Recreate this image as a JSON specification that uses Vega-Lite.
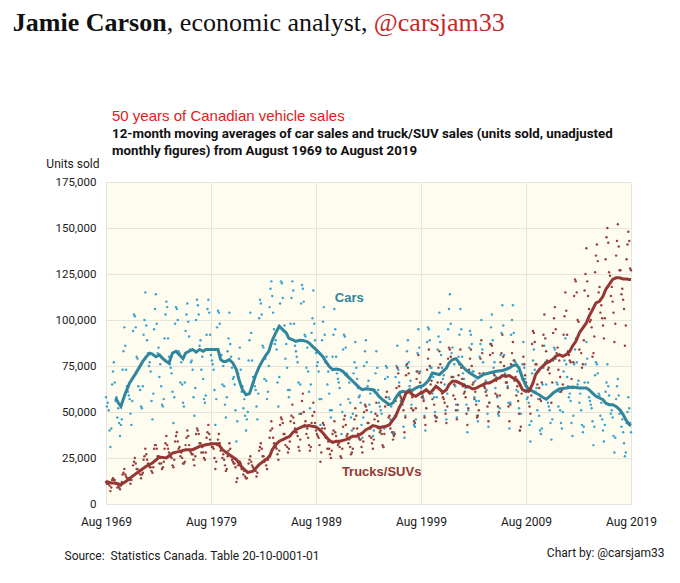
{
  "$schema": "https://vega.github.io/schema/vega-lite/v6.json",
  "background": "white",
  "padding": {"left": 12, "top": 9, "right": 4, "bottom": 4},
  "config": {
    "font": "Roboto",
    "view": {"stroke": null},
    "concat": {"spacing": 0},
    "axis": {
      "labelFont": "Roboto", "labelFontSize": 12, "labelColor": "#1a1a1a",
      "titleFont": "Roboto", "titleFontSize": 12, "titleFontWeight": "normal", "titleColor": "#1a1a1a",
      "gridColor": "#e5e5dc", "ticks": false, "domain": false
    }
  },
  "title": {"text": "@carsjam33", "anchor": "start", "dx": 361, "offset": -26, "font": "Liberation Serif", "fontSize": 26, "fontWeight": "normal", "color": "#c62828"},
  "datasets": {
    "cm": [
      {"d":"1970-07","v":57.6},{"d":"1970-10","v":55},{"d":"1971-01","v":53},{"d":"1971-06","v":60},{"d":"1971-11","v":65.8},
      {"d":"1972-06","v":71},{"d":"1973-02","v":77.5},{"d":"1973-06","v":80},{"d":"1973-10","v":82},{"d":"1974-01","v":81.5},
      {"d":"1974-05","v":80},{"d":"1974-09","v":81},{"d":"1975-01","v":79},{"d":"1975-05","v":77.5},{"d":"1975-08","v":76.6},
      {"d":"1975-12","v":82},{"d":"1976-04","v":83},{"d":"1976-08","v":81},{"d":"1976-12","v":79},{"d":"1977-03","v":82},
      {"d":"1977-07","v":83},{"d":"1977-11","v":84},{"d":"1978-03","v":82.5},{"d":"1978-07","v":84},{"d":"1978-11","v":83},
      {"d":"1979-02","v":84},{"d":"1979-06","v":84},{"d":"1979-10","v":84},{"d":"1980-04","v":84},{"d":"1980-07","v":78.5},
      {"d":"1980-10","v":77.5},{"d":"1981-01","v":77.5},{"d":"1981-05","v":78.5},{"d":"1981-09","v":76.6},{"d":"1982-01","v":73},
      {"d":"1982-04","v":67.6},{"d":"1982-08","v":62},{"d":"1982-12","v":59.4},{"d":"1983-04","v":60},{"d":"1983-08","v":65.8},
      {"d":"1983-11","v":70},{"d":"1984-03","v":74.5},{"d":"1984-07","v":78},{"d":"1984-11","v":81},{"d":"1985-02","v":83},
      {"d":"1985-06","v":89},{"d":"1985-10","v":93},{"d":"1986-02","v":96.6},{"d":"1986-06","v":94.8},{"d":"1986-10","v":93},
      {"d":"1987-01","v":90},{"d":"1987-05","v":89.3},{"d":"1987-09","v":88.4},{"d":"1988-01","v":89},{"d":"1988-05","v":88.8},
      {"d":"1988-09","v":88.4},{"d":"1988-12","v":87.5},{"d":"1989-04","v":85.7},{"d":"1989-08","v":83.9},{"d":"1989-12","v":82},
      {"d":"1990-04","v":80},{"d":"1990-07","v":77.6},{"d":"1990-11","v":74.8},{"d":"1991-03","v":73},{"d":"1991-07","v":73.4},
      {"d":"1991-11","v":73},{"d":"1992-03","v":72},{"d":"1992-06","v":70.3},{"d":"1992-10","v":68.5},{"d":"1993-02","v":66.7},
      {"d":"1993-06","v":64.9},{"d":"1993-10","v":63},{"d":"1994-01","v":62.1},{"d":"1994-05","v":62.6},{"d":"1994-09","v":62.4},
      {"d":"1995-01","v":62.1},{"d":"1995-05","v":60.3},{"d":"1995-08","v":58.5},{"d":"1995-12","v":56.7},{"d":"1996-04","v":55.3},
      {"d":"1996-08","v":54},{"d":"1996-12","v":54.9},{"d":"1997-03","v":57.6},{"d":"1997-07","v":60.3},{"d":"1997-11","v":61.2},
      {"d":"1998-03","v":60.7},{"d":"1998-07","v":62.1},{"d":"1998-10","v":61.7},{"d":"1999-02","v":63},{"d":"1999-06","v":63.9},
      {"d":"1999-10","v":64.2},{"d":"2000-02","v":65.8},{"d":"2000-05","v":67.6},{"d":"2000-09","v":71.2},{"d":"2001-01","v":70.8},
      {"d":"2001-05","v":70.3},{"d":"2001-09","v":72.1},{"d":"2002-01","v":73.9},{"d":"2002-04","v":76.6},{"d":"2002-08","v":78.5},
      {"d":"2002-12","v":79},{"d":"2003-04","v":76.6},{"d":"2003-08","v":74.5},{"d":"2003-11","v":73},{"d":"2004-03","v":71.5},
      {"d":"2004-07","v":70.3},{"d":"2005-01","v":68.5},{"d":"2005-07","v":70.3},{"d":"2006-02","v":71.2},{"d":"2006-10","v":72.1},
      {"d":"2007-05","v":72.5},{"d":"2008-01","v":73.9},{"d":"2008-05","v":75.2},{"d":"2008-09","v":75.7},{"d":"2008-12","v":73.9},
      {"d":"2009-04","v":68.5},{"d":"2009-08","v":64},{"d":"2009-12","v":62.1},{"d":"2010-04","v":61.2},{"d":"2010-07","v":60.3},
      {"d":"2010-11","v":59.4},{"d":"2011-03","v":58},{"d":"2011-07","v":57},{"d":"2011-11","v":58.5},{"d":"2012-03","v":60.3},
      {"d":"2012-10","v":62.5},{"d":"2013-06","v":63},{"d":"2014-01","v":63.6},{"d":"2014-09","v":63},{"d":"2015-05","v":63},
      {"d":"2015-08","v":62.1},{"d":"2015-12","v":60.3},{"d":"2016-04","v":58.5},{"d":"2016-08","v":57.6},{"d":"2016-12","v":56.7},
      {"d":"2017-03","v":54.9},{"d":"2017-07","v":54},{"d":"2017-11","v":54},{"d":"2018-03","v":53},{"d":"2018-07","v":51.3},
      {"d":"2018-11","v":48.6},{"d":"2019-02","v":45.8},{"d":"2019-06","v":43.1},{"d":"2019-08","v":42.6}
    ],
    "tm": [
      {"d":"1969-08","v":12.3},{"d":"1970-02","v":11.4},{"d":"1970-07","v":11.4},{"d":"1971-01","v":10.5},{"d":"1971-07","v":12.3},
      {"d":"1972-02","v":15},{"d":"1972-10","v":17.8},{"d":"1973-06","v":20.5},{"d":"1974-01","v":22.3},{"d":"1974-09","v":25.5},
      {"d":"1975-05","v":25},{"d":"1975-12","v":27.7},{"d":"1976-08","v":28.6},{"d":"1977-03","v":29.5},{"d":"1977-11","v":29.5},
      {"d":"1978-07","v":31.3},{"d":"1979-02","v":32.2},{"d":"1979-10","v":32.8},{"d":"1980-04","v":32.8},{"d":"1980-09","v":29.5},
      {"d":"1981-05","v":26.8},{"d":"1982-01","v":24.1},{"d":"1982-08","v":19.6},{"d":"1983-02","v":17.2},{"d":"1983-08","v":17.8},
      {"d":"1984-03","v":21.4},{"d":"1984-11","v":24.3},{"d":"1985-03","v":25.9},{"d":"1985-06","v":29.5},{"d":"1985-10","v":32.3},
      {"d":"1986-02","v":34.1},{"d":"1986-06","v":35},{"d":"1986-10","v":35.9},{"d":"1987-02","v":36.8},{"d":"1987-05","v":38.6},
      {"d":"1987-09","v":40.4},{"d":"1988-01","v":41.3},{"d":"1988-05","v":42.2},{"d":"1988-09","v":42.4},{"d":"1988-12","v":42.6},
      {"d":"1989-04","v":42.2},{"d":"1989-08","v":41.9},{"d":"1989-12","v":40.4},{"d":"1990-04","v":38.6},{"d":"1990-07","v":36.8},
      {"d":"1990-11","v":34.6},{"d":"1991-03","v":33.5},{"d":"1991-07","v":34.1},{"d":"1991-11","v":34.1},{"d":"1992-03","v":34.6},
      {"d":"1992-06","v":35},{"d":"1992-10","v":35.9},{"d":"1993-02","v":36.8},{"d":"1993-06","v":36.8},{"d":"1993-10","v":37.7},
      {"d":"1994-01","v":38.6},{"d":"1994-05","v":40.4},{"d":"1994-09","v":41.3},{"d":"1995-01","v":42.6},{"d":"1995-05","v":42.2},
      {"d":"1995-08","v":41.3},{"d":"1995-12","v":41.9},{"d":"1996-04","v":42.2},{"d":"1996-08","v":43.1},{"d":"1996-12","v":45.8},
      {"d":"1997-03","v":47.6},{"d":"1997-07","v":52.2},{"d":"1997-11","v":55.8},{"d":"1998-03","v":60.3},{"d":"1998-07","v":61.2},
      {"d":"1998-10","v":59.4},{"d":"1999-02","v":58.5},{"d":"1999-06","v":59.9},{"d":"1999-10","v":60.7},{"d":"2000-02","v":62.1},
      {"d":"2000-06","v":60.3},{"d":"2000-09","v":61.7},{"d":"2001-01","v":64},{"d":"2001-05","v":62.5},{"d":"2001-09","v":60.7},
      {"d":"2002-01","v":62.1},{"d":"2002-04","v":64.9},{"d":"2002-08","v":66.7},{"d":"2002-12","v":66.7},{"d":"2003-04","v":65.8},
      {"d":"2003-08","v":64.9},{"d":"2003-11","v":64},{"d":"2004-03","v":63.6},{"d":"2004-07","v":62.5},{"d":"2004-11","v":63},
      {"d":"2005-03","v":64},{"d":"2005-07","v":64.9},{"d":"2005-10","v":65.8},{"d":"2006-02","v":65.8},{"d":"2006-06","v":66.7},
      {"d":"2006-10","v":68},{"d":"2007-02","v":68.5},{"d":"2007-05","v":69.8},{"d":"2007-09","v":69.4},{"d":"2008-01","v":69.8},
      {"d":"2008-05","v":68.5},{"d":"2008-09","v":67.6},{"d":"2008-12","v":65.8},{"d":"2009-04","v":62.1},{"d":"2009-08","v":61.2},
      {"d":"2009-12","v":61.7},{"d":"2010-04","v":65.8},{"d":"2010-07","v":70.3},{"d":"2010-11","v":73},{"d":"2011-03","v":74.8},
      {"d":"2011-07","v":76.6},{"d":"2011-11","v":77.5},{"d":"2012-03","v":78.8},{"d":"2012-06","v":80.3},{"d":"2012-10","v":81.2},
      {"d":"2013-02","v":80.3},{"d":"2013-06","v":81.2},{"d":"2013-10","v":83},{"d":"2014-01","v":85.7},{"d":"2014-05","v":88.4},
      {"d":"2014-09","v":93},{"d":"2015-01","v":95.7},{"d":"2015-05","v":98.4},{"d":"2015-08","v":102},{"d":"2015-12","v":105.6},
      {"d":"2016-04","v":109.3},{"d":"2016-08","v":110.2},{"d":"2016-12","v":112.9},{"d":"2017-03","v":116.5},{"d":"2017-07","v":119.2},
      {"d":"2017-11","v":122},{"d":"2018-03","v":122.9},{"d":"2018-07","v":122.9},{"d":"2018-11","v":122.3},{"d":"2019-03","v":122.3},
      {"d":"2019-06","v":122},{"d":"2019-08","v":122}
    ],
    "m": [
      {"d":"1969-08","c":58,"t":12},{"d":"1969-09","c":53,"t":11},{"d":"1969-10","c":55,"t":11},{"d":"1969-11","c":51,"t":11},{"d":"1969-12","c":40,"t":10},
      {"d":"1970-01","c":31,"t":7},{"d":"1970-02","c":41,"t":9},{"d":"1970-03","c":65,"t":13},{"d":"1970-04","c":72,"t":14},{"d":"1970-05","c":77,"t":13},{"d":"1970-06","c":66,"t":13},{"d":"1970-07","c":56,"t":11},{"d":"1970-08","c":58,"t":11},{"d":"1970-09","c":47,"t":9},{"d":"1970-10","c":52,"t":10},{"d":"1970-11","c":44,"t":9},{"d":"1970-12","c":37,"t":8},
      {"d":"1971-01","c":43,"t":10},{"d":"1971-02","c":46,"t":12},{"d":"1971-03","c":73,"t":16},{"d":"1971-04","c":83,"t":17},{"d":"1971-05","c":96,"t":19},{"d":"1971-06","c":86,"t":16},{"d":"1971-07","c":73,"t":15},{"d":"1971-08","c":64,"t":14},{"d":"1971-09","c":61,"t":13},{"d":"1971-10","c":59,"t":14},{"d":"1971-11","c":57,"t":13},{"d":"1971-12","c":49,"t":11},
      {"d":"1972-01","c":43,"t":13},{"d":"1972-02","c":56,"t":15},{"d":"1972-03","c":94,"t":21},{"d":"1972-04","c":103,"t":23},{"d":"1972-05","c":102,"t":25},{"d":"1972-06","c":96,"t":22},{"d":"1972-07","c":80,"t":19},{"d":"1972-08","c":79,"t":19},{"d":"1972-09","c":64,"t":17},{"d":"1972-10","c":74,"t":18},{"d":"1972-11","c":62,"t":16},{"d":"1972-12","c":53,"t":14},
      {"d":"1973-01","c":52,"t":16},{"d":"1973-02","c":64,"t":17},{"d":"1973-03","c":92,"t":24},{"d":"1973-04","c":100,"t":26},{"d":"1973-05","c":115,"t":30},{"d":"1973-06","c":97,"t":27},{"d":"1973-07","c":89,"t":24},{"d":"1973-08","c":82,"t":22},{"d":"1973-09","c":75,"t":21},{"d":"1973-10","c":77,"t":20},{"d":"1973-11","c":72,"t":20},{"d":"1973-12","c":56,"t":18},
      {"d":"1974-01","c":46,"t":17},{"d":"1974-02","c":60,"t":20},{"d":"1974-03","c":95,"t":30},{"d":"1974-04","c":106,"t":32},{"d":"1974-05","c":114,"t":32},{"d":"1974-06","c":98,"t":30},{"d":"1974-07","c":82,"t":26},{"d":"1974-08","c":85,"t":26},{"d":"1974-09","c":69,"t":22},{"d":"1974-10","c":76,"t":25},{"d":"1974-11","c":64,"t":22},{"d":"1974-12","c":54,"t":19},
      {"d":"1975-01","c":53,"t":20},{"d":"1975-02","c":57,"t":23},{"d":"1975-03","c":90,"t":30},{"d":"1975-04","c":103,"t":33},{"d":"1975-05","c":110,"t":37},{"d":"1975-06","c":107,"t":32},{"d":"1975-07","c":90,"t":30},{"d":"1975-08","c":80,"t":28},{"d":"1975-09","c":76,"t":26},{"d":"1975-10","c":74,"t":26},{"d":"1975-11","c":71,"t":25},{"d":"1975-12","c":61,"t":21},
      {"d":"1976-01","c":44,"t":20},{"d":"1976-02","c":58,"t":24},{"d":"1976-03","c":98,"t":34},{"d":"1976-04","c":107,"t":37},{"d":"1976-05","c":106,"t":39},{"d":"1976-06","c":100,"t":34},{"d":"1976-07","c":83,"t":30},{"d":"1976-08","c":82,"t":31},{"d":"1976-09","c":66,"t":26},{"d":"1976-10","c":77,"t":28},{"d":"1976-11","c":65,"t":25},{"d":"1976-12","c":55,"t":22},
      {"d":"1977-01","c":53,"t":22},{"d":"1977-02","c":66,"t":23},{"d":"1977-03","c":94,"t":32},{"d":"1977-04","c":103,"t":36},{"d":"1977-05","c":109,"t":40},{"d":"1977-06","c":99,"t":37},{"d":"1977-07","c":91,"t":32},{"d":"1977-08","c":84,"t":29},{"d":"1977-09","c":77,"t":28},{"d":"1977-10","c":78,"t":27},{"d":"1977-11","c":73,"t":27},{"d":"1977-12","c":58,"t":24},
      {"d":"1978-01","c":48,"t":21},{"d":"1978-02","c":63,"t":26},{"d":"1978-03","c":100,"t":38},{"d":"1978-04","c":111,"t":41},{"d":"1978-05","c":108,"t":40},{"d":"1978-06","c":103,"t":38},{"d":"1978-07","c":86,"t":33},{"d":"1978-08","c":89,"t":33},{"d":"1978-09","c":73,"t":28},{"d":"1978-10","c":80,"t":31},{"d":"1978-11","c":68,"t":28},{"d":"1978-12","c":57,"t":25},
      {"d":"1979-01","c":55,"t":24},{"d":"1979-02","c":59,"t":28},{"d":"1979-03","c":92,"t":36},{"d":"1979-04","c":106,"t":39},{"d":"1979-05","c":111,"t":43},{"d":"1979-06","c":104,"t":38},{"d":"1979-07","c":92,"t":35},{"d":"1979-08","c":81,"t":33},{"d":"1979-09","c":78,"t":31},{"d":"1979-10","c":76,"t":31},{"d":"1979-11","c":73,"t":30},{"d":"1979-12","c":62,"t":25},
      {"d":"1980-01","c":43,"t":19},{"d":"1980-02","c":57,"t":23},{"d":"1980-03","c":96,"t":32},{"d":"1980-04","c":105,"t":35},{"d":"1980-05","c":104,"t":38},{"d":"1980-06","c":98,"t":33},{"d":"1980-07","c":81,"t":29},{"d":"1980-08","c":81,"t":30},{"d":"1980-09","c":65,"t":25},{"d":"1980-10","c":75,"t":27},{"d":"1980-11","c":64,"t":24},{"d":"1980-12","c":54,"t":21},
      {"d":"1981-01","c":47,"t":18},{"d":"1981-02","c":58,"t":19},{"d":"1981-03","c":83,"t":26},{"d":"1981-04","c":90,"t":29},{"d":"1981-05","c":104,"t":33},{"d":"1981-06","c":87,"t":30},{"d":"1981-07","c":80,"t":26},{"d":"1981-08","c":74,"t":24},{"d":"1981-09","c":68,"t":23},{"d":"1981-10","c":69,"t":22},{"d":"1981-11","c":65,"t":22},{"d":"1981-12","c":51,"t":20},
      {"d":"1982-01","c":34,"t":12},{"d":"1982-02","c":45,"t":14},{"d":"1982-03","c":71,"t":21},{"d":"1982-04","c":79,"t":23},{"d":"1982-05","c":85,"t":23},{"d":"1982-06","c":73,"t":22},{"d":"1982-07","c":61,"t":19},{"d":"1982-08","c":64,"t":19},{"d":"1982-09","c":52,"t":16},{"d":"1982-10","c":57,"t":18},{"d":"1982-11","c":48,"t":15},{"d":"1982-12","c":40,"t":14},
      {"d":"1983-01","c":46,"t":14},{"d":"1983-02","c":50,"t":17},{"d":"1983-03","c":78,"t":22},{"d":"1983-04","c":89,"t":24},{"d":"1983-05","c":104,"t":26},{"d":"1983-06","c":93,"t":23},{"d":"1983-07","c":78,"t":21},{"d":"1983-08","c":69,"t":20},{"d":"1983-09","c":66,"t":19},{"d":"1983-10","c":64,"t":19},{"d":"1983-11","c":62,"t":18},{"d":"1983-12","c":53,"t":15},
      {"d":"1984-01","c":46,"t":17},{"d":"1984-02","c":60,"t":21},{"d":"1984-03","c":101,"t":29},{"d":"1984-04","c":111,"t":31},{"d":"1984-05","c":109,"t":33},{"d":"1984-06","c":103,"t":30},{"d":"1984-07","c":86,"t":26},{"d":"1984-08","c":85,"t":26},{"d":"1984-09","c":68,"t":23},{"d":"1984-10","c":79,"t":24},{"d":"1984-11","c":67,"t":21},{"d":"1984-12","c":57,"t":19},
      {"d":"1985-01","c":61,"t":24},{"d":"1985-02","c":75,"t":26},{"d":"1985-03","c":107,"t":36},{"d":"1985-04","c":117,"t":40},{"d":"1985-05","c":121,"t":45},{"d":"1985-06","c":113,"t":41},{"d":"1985-07","c":104,"t":36},{"d":"1985-08","c":95,"t":33},{"d":"1985-09","c":87,"t":32},{"d":"1985-10","c":89,"t":31},{"d":"1985-11","c":84,"t":30},{"d":"1985-12","c":66,"t":27},
      {"d":"1986-01","c":53,"t":24},{"d":"1986-02","c":69,"t":29},{"d":"1986-03","c":109,"t":43},{"d":"1986-04","c":121,"t":47},{"d":"1986-05","c":120,"t":46},{"d":"1986-06","c":112,"t":44},{"d":"1986-07","c":94,"t":38},{"d":"1986-08","c":97,"t":38},{"d":"1986-09","c":79,"t":32},{"d":"1986-10","c":87,"t":36},{"d":"1986-11","c":74,"t":31},{"d":"1986-12","c":62,"t":28},
      {"d":"1987-01","c":58,"t":30},{"d":"1987-02","c":62,"t":34},{"d":"1987-03","c":98,"t":45},{"d":"1987-04","c":112,"t":48},{"d":"1987-05","c":121,"t":54},{"d":"1987-06","c":116,"t":47},{"d":"1987-07","c":98,"t":44},{"d":"1987-08","c":86,"t":41},{"d":"1987-09","c":83,"t":39},{"d":"1987-10","c":80,"t":39},{"d":"1987-11","c":77,"t":37},{"d":"1987-12","c":66,"t":31},
      {"d":"1988-01","c":49,"t":29},{"d":"1988-02","c":65,"t":35},{"d":"1988-03","c":109,"t":49},{"d":"1988-04","c":119,"t":56},{"d":"1988-05","c":117,"t":60},{"d":"1988-06","c":110,"t":50},{"d":"1988-07","c":92,"t":43},{"d":"1988-08","c":91,"t":45},{"d":"1988-09","c":74,"t":38},{"d":"1988-10","c":85,"t":41},{"d":"1988-11","c":72,"t":36},{"d":"1988-12","c":61,"t":32},
      {"d":"1989-01","c":52,"t":29},{"d":"1989-02","c":65,"t":31},{"d":"1989-03","c":93,"t":44},{"d":"1989-04","c":101,"t":48},{"d":"1989-05","c":116,"t":55},{"d":"1989-06","c":98,"t":50},{"d":"1989-07","c":89,"t":44},{"d":"1989-08","c":82,"t":40},{"d":"1989-09","c":75,"t":38},{"d":"1989-10","c":77,"t":37},{"d":"1989-11","c":72,"t":36},{"d":"1989-12","c":57,"t":32},
      {"d":"1990-01","c":43,"t":23},{"d":"1990-02","c":57,"t":28},{"d":"1990-03","c":89,"t":41},{"d":"1990-04","c":99,"t":44},{"d":"1990-05","c":107,"t":43},{"d":"1990-06","c":92,"t":41},{"d":"1990-07","c":77,"t":36},{"d":"1990-08","c":80,"t":36},{"d":"1990-09","c":65,"t":30},{"d":"1990-10","c":72,"t":34},{"d":"1990-11","c":60,"t":30},{"d":"1990-12","c":51,"t":27},
      {"d":"1991-01","c":47,"t":25},{"d":"1991-02","c":51,"t":29},{"d":"1991-03","c":80,"t":38},{"d":"1991-04","c":92,"t":40},{"d":"1991-05","c":106,"t":45},{"d":"1991-06","c":95,"t":39},{"d":"1991-07","c":80,"t":37},{"d":"1991-08","c":71,"t":34},{"d":"1991-09","c":68,"t":32},{"d":"1991-10","c":66,"t":33},{"d":"1991-11","c":63,"t":31},{"d":"1991-12","c":54,"t":26},
      {"d":"1992-01","c":38,"t":25},{"d":"1992-02","c":50,"t":30},{"d":"1992-03","c":84,"t":42},{"d":"1992-04","c":92,"t":46},{"d":"1992-05","c":91,"t":48},{"d":"1992-06","c":85,"t":43},{"d":"1992-07","c":71,"t":37},{"d":"1992-08","c":70,"t":38},{"d":"1992-09","c":57,"t":33},{"d":"1992-10","c":66,"t":35},{"d":"1992-11","c":55,"t":31},{"d":"1992-12","c":47,"t":27},
      {"d":"1993-01","c":40,"t":28},{"d":"1993-02","c":49,"t":30},{"d":"1993-03","c":71,"t":41},{"d":"1993-04","c":77,"t":46},{"d":"1993-05","c":88,"t":52},{"d":"1993-06","c":74,"t":48},{"d":"1993-07","c":68,"t":41},{"d":"1993-08","c":63,"t":38},{"d":"1993-09","c":58,"t":36},{"d":"1993-10","c":59,"t":35},{"d":"1993-11","c":55,"t":35},{"d":"1993-12","c":43,"t":31},
      {"d":"1994-01","c":36,"t":28},{"d":"1994-02","c":47,"t":34},{"d":"1994-03","c":75,"t":50},{"d":"1994-04","c":83,"t":54},{"d":"1994-05","c":89,"t":53},{"d":"1994-06","c":77,"t":51},{"d":"1994-07","c":64,"t":44},{"d":"1994-08","c":67,"t":44},{"d":"1994-09","c":54,"t":37},{"d":"1994-10","c":60,"t":41},{"d":"1994-11","c":50,"t":36},{"d":"1994-12","c":42,"t":33},
      {"d":"1995-01","c":37,"t":30},{"d":"1995-02","c":40,"t":35},{"d":"1995-03","c":62,"t":46},{"d":"1995-04","c":71,"t":49},{"d":"1995-05","c":83,"t":55},{"d":"1995-06","c":74,"t":48},{"d":"1995-07","c":62,"t":45},{"d":"1995-08","c":55,"t":42},{"d":"1995-09","c":53,"t":39},{"d":"1995-10","c":51,"t":40},{"d":"1995-11","c":49,"t":38},{"d":"1995-12","c":42,"t":32},
      {"d":"1996-01","c":31,"t":31},{"d":"1996-02","c":41,"t":38},{"d":"1996-03","c":68,"t":53},{"d":"1996-04","c":75,"t":58},{"d":"1996-05","c":74,"t":61},{"d":"1996-06","c":69,"t":54},{"d":"1996-07","c":58,"t":47},{"d":"1996-08","c":57,"t":48},{"d":"1996-09","c":46,"t":41},{"d":"1996-10","c":53,"t":45},{"d":"1996-11","c":45,"t":39},{"d":"1996-12","c":38,"t":35},
      {"d":"1997-01","c":39,"t":37},{"d":"1997-02","c":48,"t":38},{"d":"1997-03","c":69,"t":56},{"d":"1997-04","c":75,"t":63},{"d":"1997-05","c":86,"t":74},{"d":"1997-06","c":73,"t":71},{"d":"1997-07","c":66,"t":64},{"d":"1997-08","c":61,"t":59},{"d":"1997-09","c":56,"t":58},{"d":"1997-10","c":57,"t":57},{"d":"1997-11","c":54,"t":57},{"d":"1997-12","c":42,"t":51},
      {"d":"1998-01","c":36,"t":39},{"d":"1998-02","c":48,"t":47},{"d":"1998-03","c":75,"t":70},{"d":"1998-04","c":83,"t":76},{"d":"1998-05","c":89,"t":74},{"d":"1998-06","c":77,"t":71},{"d":"1998-07","c":64,"t":61},{"d":"1998-08","c":67,"t":61},{"d":"1998-09","c":54,"t":52},{"d":"1998-10","c":60,"t":58},{"d":"1998-11","c":51,"t":51},{"d":"1998-12","c":43,"t":45},
      {"d":"1999-01","c":42,"t":44},{"d":"1999-02","c":46,"t":52},{"d":"1999-03","c":72,"t":68},{"d":"1999-04","c":82,"t":72},{"d":"1999-05","c":95,"t":81},{"d":"1999-06","c":85,"t":71},{"d":"1999-07","c":72,"t":66},{"d":"1999-08","c":63,"t":61},{"d":"1999-09","c":60,"t":58},{"d":"1999-10","c":59,"t":58},{"d":"1999-11","c":57,"t":56},{"d":"1999-12","c":48,"t":47},
      {"d":"2000-01","c":40,"t":43},{"d":"2000-02","c":52,"t":52},{"d":"2000-03","c":88,"t":73},{"d":"2000-04","c":96,"t":79},{"d":"2000-05","c":95,"t":84},{"d":"2000-06","c":89,"t":75},{"d":"2000-07","c":74,"t":65},{"d":"2000-08","c":74,"t":67},{"d":"2000-09","c":60,"t":57},{"d":"2000-10","c":69,"t":62},{"d":"2000-11","c":58,"t":54},{"d":"2000-12","c":50,"t":48},
      {"d":"2001-01","c":47,"t":45},{"d":"2001-02","c":58,"t":47},{"d":"2001-03","c":84,"t":66},{"d":"2001-04","c":91,"t":74},{"d":"2001-05","c":104,"t":83},{"d":"2001-06","c":88,"t":76},{"d":"2001-07","c":81,"t":66},{"d":"2001-08","c":74,"t":60},{"d":"2001-09","c":68,"t":58},{"d":"2001-10","c":70,"t":57},{"d":"2001-11","c":65,"t":55},{"d":"2001-12","c":51,"t":49},
      {"d":"2002-01","c":46,"t":44},{"d":"2002-02","c":60,"t":53},{"d":"2002-03","c":95,"t":79},{"d":"2002-04","c":106,"t":85},{"d":"2002-05","c":114,"t":84},{"d":"2002-06","c":98,"t":80},{"d":"2002-07","c":82,"t":69},{"d":"2002-08","c":85,"t":69},{"d":"2002-09","c":69,"t":59},{"d":"2002-10","c":76,"t":65},{"d":"2002-11","c":64,"t":57},{"d":"2002-12","c":54,"t":51},
      {"d":"2003-01","c":47,"t":46},{"d":"2003-02","c":51,"t":54},{"d":"2003-03","c":80,"t":70},{"d":"2003-04","c":92,"t":76},{"d":"2003-05","c":106,"t":84},{"d":"2003-06","c":95,"t":74},{"d":"2003-07","c":80,"t":68},{"d":"2003-08","c":71,"t":64},{"d":"2003-09","c":68,"t":60},{"d":"2003-10","c":65,"t":61},{"d":"2003-11","c":63,"t":58},{"d":"2003-12","c":54,"t":49},
      {"d":"2004-01","c":39,"t":43},{"d":"2004-02","c":51,"t":52},{"d":"2004-03","c":85,"t":73},{"d":"2004-04","c":94,"t":79},{"d":"2004-05","c":92,"t":84},{"d":"2004-06","c":87,"t":75},{"d":"2004-07","c":72,"t":65},{"d":"2004-08","c":72,"t":66},{"d":"2004-09","c":58,"t":57},{"d":"2004-10","c":67,"t":61},{"d":"2004-11","c":56,"t":54},{"d":"2004-12","c":48,"t":47},
      {"d":"2005-01","c":45,"t":48},{"d":"2005-02","c":56,"t":51},{"d":"2005-03","c":80,"t":71},{"d":"2005-04","c":87,"t":79},{"d":"2005-05","c":100,"t":89},{"d":"2005-06","c":84,"t":82},{"d":"2005-07","c":77,"t":71},{"d":"2005-08","c":71,"t":64},{"d":"2005-09","c":65,"t":63},{"d":"2005-10","c":67,"t":61},{"d":"2005-11","c":62,"t":59},{"d":"2005-12","c":49,"t":53},
      {"d":"2006-01","c":42,"t":45},{"d":"2006-02","c":55,"t":55},{"d":"2006-03","c":87,"t":81},{"d":"2006-04","c":96,"t":87},{"d":"2006-05","c":103,"t":86},{"d":"2006-06","c":89,"t":82},{"d":"2006-07","c":74,"t":71},{"d":"2006-08","c":77,"t":70},{"d":"2006-09","c":63,"t":60},{"d":"2006-10","c":69,"t":67},{"d":"2006-11","c":58,"t":59},{"d":"2006-12","c":49,"t":53},
      {"d":"2007-01","c":48,"t":50},{"d":"2007-02","c":52,"t":59},{"d":"2007-03","c":81,"t":77},{"d":"2007-04","c":93,"t":82},{"d":"2007-05","c":108,"t":92},{"d":"2007-06","c":97,"t":80},{"d":"2007-07","c":81,"t":75},{"d":"2007-08","c":71,"t":70},{"d":"2007-09","c":69,"t":66},{"d":"2007-10","c":66,"t":66},{"d":"2007-11","c":64,"t":63},{"d":"2007-12","c":55,"t":53},
      {"d":"2008-01","c":41,"t":45},{"d":"2008-02","c":55,"t":54},{"d":"2008-03","c":92,"t":76},{"d":"2008-04","c":100,"t":82},{"d":"2008-05","c":108,"t":88},{"d":"2008-06","c":93,"t":78},{"d":"2008-07","c":78,"t":67},{"d":"2008-08","c":77,"t":69},{"d":"2008-09","c":62,"t":59},{"d":"2008-10","c":72,"t":64},{"d":"2008-11","c":61,"t":56},{"d":"2008-12","c":52,"t":49},
      {"d":"2009-01","c":40,"t":40},{"d":"2009-02","c":49,"t":42},{"d":"2009-03","c":70,"t":60},{"d":"2009-04","c":76,"t":68},{"d":"2009-05","c":88,"t":80},{"d":"2009-06","c":74,"t":76},{"d":"2009-07","c":68,"t":70},{"d":"2009-08","c":62,"t":66},{"d":"2009-09","c":57,"t":64},{"d":"2009-10","c":58,"t":62},{"d":"2009-11","c":55,"t":61},{"d":"2009-12","c":43,"t":53},
      {"d":"2010-01","c":34,"t":49},{"d":"2010-02","c":45,"t":59},{"d":"2010-03","c":71,"t":87},{"d":"2010-04","c":78,"t":94},{"d":"2010-05","c":84,"t":93},{"d":"2010-06","c":73,"t":88},{"d":"2010-07","c":61,"t":76},{"d":"2010-08","c":63,"t":76},{"d":"2010-09","c":51,"t":65},{"d":"2010-10","c":57,"t":72},{"d":"2010-11","c":48,"t":63},{"d":"2010-12","c":40,"t":57},
      {"d":"2011-01","c":38,"t":56},{"d":"2011-02","c":41,"t":66},{"d":"2011-03","c":65,"t":86},{"d":"2011-04","c":74,"t":92},{"d":"2011-05","c":86,"t":103},{"d":"2011-06","c":77,"t":90},{"d":"2011-07","c":65,"t":83},{"d":"2011-08","c":57,"t":78},{"d":"2011-09","c":55,"t":73},{"d":"2011-10","c":53,"t":74},{"d":"2011-11","c":51,"t":71},{"d":"2011-12","c":44,"t":59},
      {"d":"2012-01","c":35,"t":55},{"d":"2012-02","c":46,"t":66},{"d":"2012-03","c":78,"t":93},{"d":"2012-04","c":85,"t":101},{"d":"2012-05","c":84,"t":107},{"d":"2012-06","c":79,"t":95},{"d":"2012-07","c":66,"t":82},{"d":"2012-08","c":65,"t":85},{"d":"2012-09","c":53,"t":73},{"d":"2012-10","c":61,"t":78},{"d":"2012-11","c":51,"t":69},{"d":"2012-12","c":44,"t":61},
      {"d":"2013-01","c":41,"t":62},{"d":"2013-02","c":50,"t":65},{"d":"2013-03","c":72,"t":92},{"d":"2013-04","c":78,"t":102},{"d":"2013-05","c":90,"t":115},{"d":"2013-06","c":76,"t":105},{"d":"2013-07","c":69,"t":92},{"d":"2013-08","c":64,"t":83},{"d":"2013-09","c":58,"t":81},{"d":"2013-10","c":60,"t":78},{"d":"2013-11","c":56,"t":77},{"d":"2013-12","c":44,"t":68},
      {"d":"2014-01","c":37,"t":63},{"d":"2014-02","c":48,"t":77},{"d":"2014-03","c":76,"t":113},{"d":"2014-04","c":84,"t":122},{"d":"2014-05","c":90,"t":121},{"d":"2014-06","c":77,"t":115},{"d":"2014-07","c":65,"t":100},{"d":"2014-08","c":67,"t":99},{"d":"2014-09","c":55,"t":84},{"d":"2014-10","c":60,"t":94},{"d":"2014-11","c":51,"t":82},{"d":"2014-12","c":43,"t":74},
      {"d":"2015-01","c":39,"t":76},{"d":"2015-02","c":42,"t":89},{"d":"2015-03","c":66,"t":116},{"d":"2015-04","c":76,"t":125},{"d":"2015-05","c":88,"t":139},{"d":"2015-06","c":79,"t":121},{"d":"2015-07","c":66,"t":113},{"d":"2015-08","c":58,"t":106},{"d":"2015-09","c":56,"t":99},{"d":"2015-10","c":54,"t":100},{"d":"2015-11","c":52,"t":96},{"d":"2015-12","c":45,"t":80},
      {"d":"2016-01","c":32,"t":82},{"d":"2016-02","c":42,"t":91},{"d":"2016-03","c":70,"t":126},{"d":"2016-04","c":77,"t":135},{"d":"2016-05","c":76,"t":141},{"d":"2016-06","c":71,"t":132},{"d":"2016-07","c":60,"t":115},{"d":"2016-08","c":59,"t":118},{"d":"2016-09","c":48,"t":104},{"d":"2016-10","c":55,"t":108},{"d":"2016-11","c":46,"t":101},{"d":"2016-12","c":40,"t":97},
      {"d":"2017-01","c":34,"t":90},{"d":"2017-02","c":43,"t":101},{"d":"2017-03","c":61,"t":133},{"d":"2017-04","c":66,"t":145},{"d":"2017-05","c":76,"t":150},{"d":"2017-06","c":64,"t":142},{"d":"2017-07","c":59,"t":126},{"d":"2017-08","c":54,"t":124},{"d":"2017-09","c":49,"t":113},{"d":"2017-10","c":51,"t":118},{"d":"2017-11","c":47,"t":110},{"d":"2017-12","c":37,"t":104},
      {"d":"2018-01","c":28,"t":88},{"d":"2018-02","c":36,"t":98},{"d":"2018-03","c":57,"t":135},{"d":"2018-04","c":64,"t":143},{"d":"2018-05","c":68,"t":152},{"d":"2018-06","c":59,"t":140},{"d":"2018-07","c":49,"t":127},{"d":"2018-08","c":51,"t":127},{"d":"2018-09","c":42,"t":114},{"d":"2018-10","c":46,"t":117},{"d":"2018-11","c":39,"t":111},{"d":"2018-12","c":33,"t":106},
      {"d":"2019-01","c":26,"t":86},{"d":"2019-02","c":28,"t":97},{"d":"2019-03","c":44,"t":133},{"d":"2019-04","c":50,"t":141},{"d":"2019-05","c":58,"t":148},{"d":"2019-06","c":52,"t":143},{"d":"2019-07","c":44,"t":128},{"d":"2019-08","c":39,"t":127}
    ]
  },
  "vconcat": [{
    "title": {"text": ", economic analyst,", "anchor": "start", "dx": 154, "offset": -26, "font": "Liberation Serif", "fontSize": 26, "fontWeight": "normal", "color": "#111111"},
    "vconcat": [{
      "title": {"text": "Jamie Carson", "anchor": "start", "dx": -33, "offset": 73, "font": "Liberation Serif", "fontSize": 26, "fontWeight": "bold", "color": "#111111"},
      "vconcat": [{
        "title": {"text": "Chart by: @carsjam33", "orient": "bottom", "anchor": "end", "dx": 8, "offset": -13, "font": "Roboto", "fontSize": 12, "fontWeight": "normal", "color": "#1a1a1a"},
        "vconcat": [{
          "width": 525,
          "height": 322,
          "view": {"fill": "#fefcee", "stroke": null},
          "title": {
            "text": "50 years of Canadian vehicle sales",
            "subtitle": ["12-month moving averages of car sales and truck/SUV sales (units sold, unadjusted", "monthly figures) from August 1969 to August 2019"],
            "anchor": "start", "frame": "group", "dx": 6, "offset": 0,
            "font": "Liberation Sans", "fontSize": 15, "fontWeight": "normal", "color": "#e3201b",
            "subtitleFont": "Roboto", "subtitleFontSize": 13.3, "subtitleFontWeight": "bold", "subtitleColor": "#111111",
            "subtitleLineHeight": 17, "subtitlePadding": 3
          },
          "encoding": {
            "x": {
              "field": "d", "type": "temporal",
              "scale": {"type": "utc", "nice": false, "domain": [{"year": 1969, "month": 8, "date": 1, "utc": true}, {"year": 2019, "month": 8, "date": 1, "utc": true}]},
              "axis": {
                "values": [
                  {"year": 1969, "month": 8, "date": 1, "utc": true}, {"year": 1979, "month": 8, "date": 1, "utc": true},
                  {"year": 1989, "month": 8, "date": 1, "utc": true}, {"year": 1999, "month": 8, "date": 1, "utc": true},
                  {"year": 2009, "month": 8, "date": 1, "utc": true}, {"year": 2019, "month": 8, "date": 1, "utc": true}
                ],
                "labelExpr": "utcFormat(datum.value, '%b %Y')",
                "labelPadding": 12, "labelFlush": false, "labelOverlap": false,
                "title": "Source:\u00a0 Statistics Canada. Table 20-10-0001-01",
                "titleX": -42, "titleY": 55, "titleAlign": "left", "titleBaseline": "alphabetic"
              }
            }
          },
          "layer": [
            {
              "data": {"name": "m"},
              "mark": {"type": "circle", "size": 6, "opacity": 1, "color": "#3aa3cf"},
              "encoding": {
                "y": {
                  "field": "c", "type": "quantitative", "title": "Units sold",
                  "scale": {"domain": [0, 175], "nice": false},
                  "axis": {
                    "values": [0, 25, 50, 75, 100, 125, 150, 175],
                    "labelExpr": "format(datum.value * 1000, ',')",
                    "labelPadding": 10, "labelFontSize": 11.5,
                    "titleAngle": 0, "titleAlign": "right", "titleX": -7, "titleY": -15, "titleBaseline": "alphabetic"
                  }
                }
              }
            },
            {
              "data": {"name": "m"},
              "mark": {"type": "circle", "size": 6, "opacity": 1, "color": "#94403f"},
              "encoding": {"y": {"field": "t", "type": "quantitative", "title": "Units sold"}}
            },
            {
              "data": {"name": "cm"},
              "mark": {"type": "line", "color": "#31859c", "strokeWidth": 3},
              "encoding": {"y": {"field": "v", "type": "quantitative", "title": "Units sold"}}
            },
            {
              "data": {"name": "tm"},
              "mark": {"type": "line", "color": "#953735", "strokeWidth": 3},
              "encoding": {"y": {"field": "v", "type": "quantitative", "title": "Units sold"}}
            },
            {
              "data": {"values": [{"d": "1992-10", "v": 112, "label": "Cars"}, {"d": "1995-11", "v": 17.4, "label": "Trucks/SUVs"}]},
              "mark": {"type": "text", "font": "Liberation Sans", "fontSize": 13, "fontWeight": "bold", "baseline": "middle"},
              "encoding": {
                "y": {"field": "v", "type": "quantitative", "title": "Units sold"},
                "text": {"field": "label"},
                "color": {"field": "label", "type": "nominal", "scale": {"domain": ["Cars", "Trucks/SUVs"], "range": ["#31849b", "#943634"]}, "legend": null}
              }
            }
          ]
        }]
      }]
    }]
  }]
}
